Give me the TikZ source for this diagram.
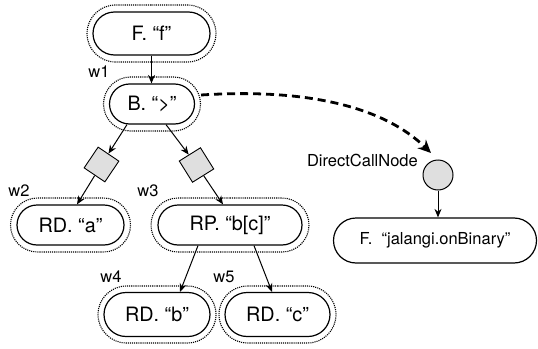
\documentclass[tikz,border=0pt]{standalone}
\usepackage{fontspec}
\setmainfont{TeX Gyre Heros}
\usetikzlibrary{arrows.meta,shapes.misc}
\begin{document}
\begin{tikzpicture}[x=1pt,y=-1pt,
  inbox/.style={rounded rectangle, draw, line width=1.2pt, inner sep=0pt, font=\fontsize{19.8}{22}\selectfont},
  outbox/.style={rounded rectangle, draw, densely dotted, line width=1.1pt, inner sep=0pt},
  dia/.style={rectangle, draw, fill=gray!25, line width=0.9pt, minimum size=25pt, inner sep=0pt},
  arr/.style={-{Stealth[length=8.5pt,width=7pt]}, line width=1pt},
  wlab/.style={inner sep=0pt, font=\fontsize{16.5}{18}\selectfont},
  rlab/.style={font=\fontsize{16.5}{19}\selectfont}]
\useasboundingbox (0,0) rectangle (538,348);

% row 0
\node[inbox, minimum width=117pt, minimum height=43pt] (F) at (151.5,33.5) {F. “f”};
\node[outbox, minimum width=129pt, minimum height=57pt] (Fo) at (F) {};
% row 1
\node[inbox, minimum width=85pt, minimum height=40pt] (B) at (152,104) {B. “>”};
\node[outbox, minimum width=97pt, minimum height=54pt] (Bo) at (B) {};
\node[wlab] (w1) at (99,72) {w1};
% diamonds
\node[dia, rotate=-34] (d1) at (101.5,164.5) {};
\node[dia, rotate=32] (d2) at (196.5,165) {};
% row 2
\node[inbox, minimum width=107pt, minimum height=40pt] (RDa) at (70.5,225) {RD. “a”};
\node[outbox, minimum width=120pt, minimum height=54pt] (RDao) at (RDa) {};
\node[wlab] (w2) at (19,191) {w2};
\node[inbox, minimum width=144pt, minimum height=40pt] (RP) at (230,225) {RP. “b[c]”};
\node[outbox, minimum width=158pt, minimum height=54pt] (RPo) at (RP) {};
\node[wlab] (w3) at (148,191) {w3};
% row 3
\node[inbox, minimum width=106pt, minimum height=44pt] (RDb) at (157,314.5) {RD. “b”};
\node[outbox, minimum width=118pt, minimum height=57pt] (RDbo) at (RDb) {};
\node[wlab] (w4) at (111,277) {w4};
\node[inbox, minimum width=105pt, minimum height=44pt] (RDc) at (277.5,314.5) {RD. “c”};
\node[outbox, minimum width=117pt, minimum height=57pt] (RDco) at (RDc) {};
\node[wlab] (w5) at (224,277) {w5};
% right side
\node[circle, draw, fill=gray!25, line width=1pt, minimum size=30pt, inner sep=0pt] (c) at (438,175) {};
\node[rlab, anchor=east, inner sep=0pt] (dcn) at (418,160) {DirectCallNode};
\node[rounded rectangle, draw, line width=1.2pt, inner sep=0pt, rlab, minimum width=203pt, minimum height=45pt] (J) at (435,240.5) {F.\ \ “jalangi.onBinary”};
\coordinate (dend) at (431,153);

% connectors
\draw[arr] (F.south) -- (F.south |- B.north);
\draw[arr] ([xshift=-25pt]B.south) -- (d1);
\draw[arr] ([xshift=14pt]B.south) -- (d2);
\draw[arr] (d1) -- ([xshift=6.5pt]RDa.north);
\draw[arr] (d2) -- ([xshift=-7pt]RP.north);
\draw[arr] ([xshift=-32pt]RP.south) -- ([xshift=23pt]RDb.north);
\draw[arr] ([xshift=24pt]RP.south) -- ([xshift=-5.5pt]RDc.north);
\draw[arr] (c.south) -- (c.south |- J.north);
\draw[line width=2.8pt, dash pattern=on 8pt off 5pt, -{Stealth[length=13pt,width=12pt]}]
  ([yshift=9pt]Bo.east) .. controls (310,88) and (385,108) .. (dend);
\end{tikzpicture}
\end{document}
